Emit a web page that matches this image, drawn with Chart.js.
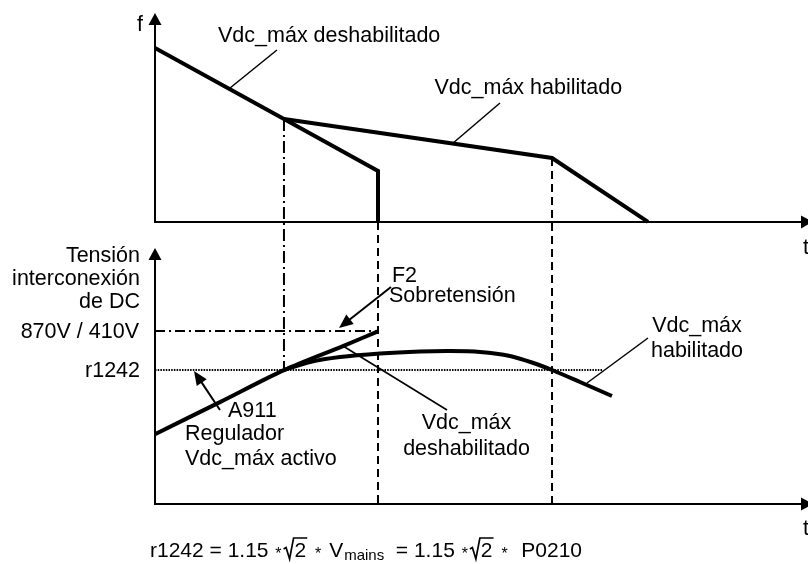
<!DOCTYPE html>
<html><head><meta charset="utf-8">
<script src="https://cdn.jsdelivr.net/npm/chart.js@4/dist/chart.umd.min.js"></script>
<style>html,body{margin:0;padding:0;background:#fff;}canvas{display:block}</style>
</head><body>
<canvas id="c" width="808" height="564"></canvas>
<script>
// ---- data (time t in relative units 0..100; f and DC-link voltage in relative units) ----
const topDisabledT = [0, 19.75, 34.15, 34.15];
const topDisabledF = [83.25, 49.26, 24.37, 0];
const topEnabledT  = [19.75, 60.8, 75.5];
const topEnabledF  = [49.26, 30.59, 0];
const botRiseT     = [0, 9.95, 19.75, 28.79, 34.15];
const botRiseV     = [27.3, 39.8, 52.3, 61.7, 67.4];
const botEnabledT  = [19.75, 23.74, 28.33, 34.46, 40.58, 45.18, 49.77, 54.36, 58.19, 60.8, 65.08, 69.98];
const botEnabledV  = [52.34, 55.47, 57.42, 58.79, 59.57, 59.77, 59.38, 57.81, 54.88, 52.34, 47.66, 42.19];
const eventTimes   = [19.75, 34.15, 60.8];
const levelTrip    = 67.6;
const levelR1242   = 52.3;
const r1242EndT    = 68.6;
const levelLabels  = ['870V / 410V', 'r1242'];
const yTitleLines  = ['Tensión', 'interconexión', 'de DC'];

const pts = (xs, ys) => xs.map((x, i) => ({x, y: ys[i]}));
const FONT = '"Liberation Sans", Arial, sans-serif';
const FL = '21.5px ' + FONT;

// annotation texts, anchored in data coordinates of their panel
const texts = [
  {p:'f', t:9.65,  y:86.12, s:'Vdc_máx deshabilitado', a:'left'},
  {p:'f', t:42.8,  y:61.18, s:'Vdc_máx habilitado', a:'left'},
  {p:'v', t:36.29, y:86.72, s:'F2', a:'left'},
  {p:'v', t:35.83, y:78.91, s:'Sobretensión', a:'left'},
  {p:'v', t:47.70, y:29.30, s:'Vdc_máx', a:'center'},
  {p:'v', t:47.70, y:19.14, s:'deshabilitado', a:'center'},
  {p:'v', t:83.0,  y:67.19, s:'Vdc_máx', a:'center'},
  {p:'v', t:83.0,  y:57.42, s:'habilitado', a:'center'},
  {p:'v', t:11.18, y:33.98, s:'A911', a:'left'},
  {p:'v', t:4.59,  y:25.0,  s:'Regulador', a:'left'},
  {p:'v', t:4.59,  y:15.23, s:'Vdc_máx activo', a:'left'}
];
const leaders = [
  {p:'f', a:[18.68, 82.29], b:[11.49, 64.10], arrow:false},
  {p:'f', a:[52.83, 56.92], b:[45.48, 37.29], arrow:false},
  {p:'v', a:[36.14, 84.77], b:[28.18, 68.75], arrow:true},
  {p:'v', a:[28.79, 61.72], b:[44.72, 36.72], arrow:false},
  {p:'v', a:[9.95, 36.72],  b:[5.97, 51.95],  arrow:true},
  {p:'v', a:[75.50, 64.84], b:[66.16, 47.27], arrow:false}
];

function arrowHead(ctx, x1, y1, x2, y2, len, half) {
  const ang = Math.atan2(y2 - y1, x2 - x1);
  ctx.beginPath();
  ctx.moveTo(x2, y2);
  ctx.lineTo(x2 - len*Math.cos(ang) + half*Math.sin(ang), y2 - len*Math.sin(ang) - half*Math.cos(ang));
  ctx.lineTo(x2 - len*Math.cos(ang) - half*Math.sin(ang), y2 - len*Math.sin(ang) + half*Math.cos(ang));
  ctx.closePath();
  ctx.fill();
}
function seg(ctx, x1, y1, x2, y2, w, dash) {
  ctx.save();
  ctx.lineWidth = w; ctx.setLineDash(dash || []);
  ctx.beginPath(); ctx.moveTo(x1, y1); ctx.lineTo(x2, y2); ctx.stroke();
  ctx.restore();
}

const diagram = {
  id: 'diagram',
  beforeDatasetsDraw(chart) {
    const {ctx} = chart;
    const X = v => chart.scales.x.getPixelForValue(v);
    const YF = v => chart.scales.f.getPixelForValue(v);
    const YV = v => chart.scales.v.getPixelForValue(v);
    ctx.save();
    ctx.strokeStyle = '#000';
    seg(ctx, X(eventTimes[0]), YF(topDisabledF[1]), X(eventTimes[0]), YV(levelR1242), 2, [12,4,2,4]);
    seg(ctx, X(eventTimes[1]), YF(0), X(eventTimes[1]), YV(0), 2, [8,5]);
    seg(ctx, X(eventTimes[2]), YF(topEnabledF[1]), X(eventTimes[2]), YV(0), 2, [8,5]);
    seg(ctx, X(0), YV(levelTrip), X(eventTimes[1]), YV(levelTrip), 2, [10,4,2,4]);
    seg(ctx, X(0), YV(levelR1242), X(r1242EndT), YV(levelR1242), 2, [1.5,1.2]);
    ctx.restore();
  },
  afterDatasetsDraw(chart) {
    const {ctx} = chart;
    const xs = chart.scales.x;
    const X = v => xs.getPixelForValue(v);
    const YF = v => chart.scales.f.getPixelForValue(v);
    const YV = v => chart.scales.v.getPixelForValue(v);
    const Y = (p, v) => p === 'f' ? YF(v) : YV(v);
    ctx.save();
    ctx.strokeStyle = '#000'; ctx.fillStyle = '#000';
    const x0 = X(0), xEnd = X(xs.max);
    [[YF(0), YF(100)], [YV(0), YV(100)]].forEach(([yb, yt]) => {
      seg(ctx, x0, yb, x0, yt + 8, 2);
      arrowHead(ctx, x0, yb, x0, yt, 12, 6.5);
      seg(ctx, x0 - 1, yb, xEnd - 2, yb, 2);
      arrowHead(ctx, x0, yb, xEnd + 5, yb, 12, 6.5);
    });
    ctx.font = FL; ctx.textBaseline = 'alphabetic';
    ctx.textAlign = 'right';
    ctx.fillText('f', x0 - 12, YF(100) + 18);
    yTitleLines.forEach((s, i) => ctx.fillText(s, x0 - 15, YV(100) + 14 + i*23));
    ctx.fillText(levelLabels[0], x0 - 16, YV(levelTrip) + 7);
    ctx.fillText(levelLabels[1], x0 - 15, YV(levelR1242) + 7);
    ctx.textAlign = 'left';
    ctx.fillText('t', xEnd - 5, YF(0) + 32);
    ctx.fillText('t', xEnd - 5, YV(0) + 31);
    leaders.forEach(l => {
      const ax = X(l.a[0]), ay = Y(l.p, l.a[1]), bx = X(l.b[0]), by = Y(l.p, l.b[1]);
      if (l.arrow) {
        const ang = Math.atan2(by - ay, bx - ax);
        seg(ctx, ax, ay, bx - 8*Math.cos(ang), by - 8*Math.sin(ang), 2);
        arrowHead(ctx, ax, ay, bx, by, 14, 6);
      } else {
        seg(ctx, ax, ay, bx, by, 1.5);
      }
    });
    texts.forEach(t => {
      ctx.textAlign = t.a;
      ctx.fillText(t.s, X(t.t), Y(t.p, t.y));
    });
    drawFormula(ctx, x0 - 5, chart.height - 7);
    ctx.restore();
  }
};

function drawFormula(ctx, x, y) {
  const FF = '21px ' + FONT;
  ctx.textAlign = 'left';
  const txt = s => { ctx.font = FF; ctx.fillText(s, x, y); x += ctx.measureText(s).width; };
  const star = () => { ctx.font = '16px ' + FONT; x += 1; ctx.fillText('*', x, y + 2); x += ctx.measureText('*').width + 2; };
  const sqrt = s => {
    ctx.save(); ctx.lineWidth = 1.7; ctx.lineJoin = 'miter';
    ctx.font = FF; const w = ctx.measureText(s).width;
    ctx.beginPath();
    ctx.moveTo(x, y - 8); ctx.lineTo(x + 2.5, y - 9.5); ctx.lineTo(x + 6, y + 2);
    ctx.lineTo(x + 10, y - 19); ctx.lineTo(x + 11 + w + 1, y - 19);
    ctx.stroke(); ctx.restore();
    ctx.font = FF; ctx.fillText(s, x + 11, y); x += 11 + w + 2;
  };
  const sub = s => { ctx.font = '15px ' + FONT; ctx.fillText(s, x + 1, y + 3); x += ctx.measureText(s).width + 1; };
  txt('r1242 = 1.15 '); star(); sqrt('2'); txt(' '); star(); txt(' V'); sub('mains');
  txt('  = 1.15 '); star(); sqrt('2'); txt(' '); star(); txt('  P0210');
}

const line = {showLine: true, borderColor: '#000', borderWidth: 4, pointRadius: 0, fill: false, borderJoinStyle: 'miter', borderCapStyle: 'butt'};

new Chart(document.getElementById('c'), {
  type: 'scatter',
  data: {
    datasets: [
      Object.assign({label: 'f Vdc_máx deshabilitado', data: pts(topDisabledT, topDisabledF), yAxisID: 'f', tension: 0}, line),
      Object.assign({label: 'f Vdc_máx habilitado', data: pts(topEnabledT, topEnabledF), yAxisID: 'f', tension: 0}, line),
      Object.assign({label: 'V Vdc_máx deshabilitado', data: pts(botRiseT, botRiseV), yAxisID: 'v', tension: 0.3}, line),
      Object.assign({label: 'V Vdc_máx habilitado', data: pts(botEnabledT, botEnabledV), yAxisID: 'v', tension: 0.3}, line)
    ]
  },
  options: {
    responsive: false, animation: false, devicePixelRatio: 1,
    layout: {padding: {left: 155, right: 0, top: 13, bottom: 60}},
    plugins: {legend: {display: false}, tooltip: {enabled: false}},
    events: [],
    scales: {
      x: {type: 'linear', min: 0, max: 100, display: false},
      f: {type: 'linear', position: 'left', stack: 'panels', stackWeight: 235, weight: 1, min: -12.5, max: 100, display: false},
      v: {type: 'linear', position: 'left', stack: 'panels', stackWeight: 256, weight: 0, min: 0, max: 100, display: false}
    }
  },
  plugins: [diagram]
});
</script>
</body></html>
